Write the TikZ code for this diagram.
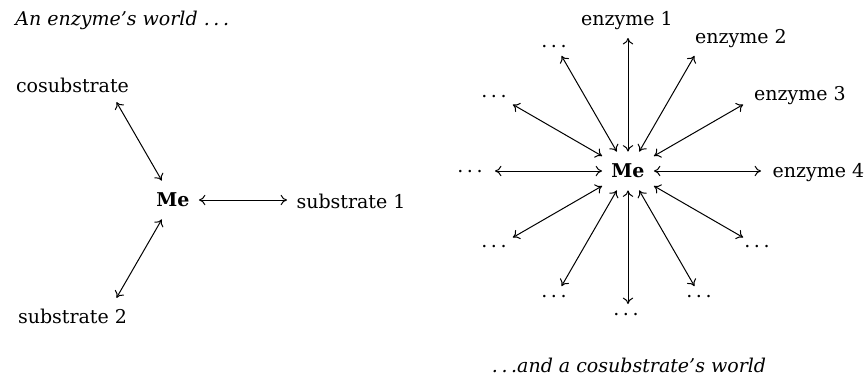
\documentclass[tikz,border=0pt]{standalone}
\usepackage{fontspec}
\setmainfont{DejaVu Serif}
\usetikzlibrary{arrows.meta}
\newcommand\spdots{.\kern1.8pt.\kern1.8pt.}
\begin{document}
\begin{tikzpicture}[x=0.5pt,y=-0.5pt,font=\fontsize{9.5}{11}\selectfont,
  me/.style={font=\fontsize{9.5}{11}\selectfont\bfseries, inner xsep=4.5pt, inner ysep=6pt},
  lbl/.style={anchor=base, inner sep=0pt},
  link/.style={{Computer Modern Rightarrow[length=3.2pt,width=5.2pt]}-{Computer Modern Rightarrow[length=3.2pt,width=5.2pt]}, line width=0.5pt}]
\useasboundingbox (0,0) rectangle (868,376);
% left diagram
\node[lbl, anchor=base west, font=\fontsize{9.5}{11}\selectfont\itshape] (title) at (15,25) {An enzyme's world \spdots};
\node[me] (meL) at (173,200) {Me};
\node[lbl] (cos) at (72.5,92) {cosubstrate};
\node[lbl] (s1) at (351,208) {substrate 1};
\node[lbl] (s2) at (72.5,323) {substrate 2};
\path (meL.center) ++(0:114) coordinate (tS1);
\path (meL.center) ++(-120:113) coordinate (tCos);
\path (meL.center) ++(120:113) coordinate (tS2);
\draw[link] (meL) -- (tS1);
\draw[link] (meL) -- (tCos);
\draw[link] (meL) -- (tS2);
% right diagram
\node[me] (meR) at (628,171) {Me};
\foreach \a in {0,30,...,330}{
  \path (meR.center) ++(-\a:133) coordinate (r\a);
  \draw[link] (meR) -- (r\a);
}
\node[lbl] (e1) at (627,25) {enzyme 1};
\node[lbl] (e2) at (741,43) {enzyme 2};
\node[lbl] (e3) at (800,100) {enzyme 3};
\node[lbl] (e4) at (818.5,177) {enzyme 4};
\node[lbl] (d120) at (554,47) {\spdots};
\node[lbl] (d150) at (494,97) {\spdots};
\node[lbl] (d180) at (470,172) {\spdots};
\node[lbl] (d210) at (494,247) {\spdots};
\node[lbl] (d240) at (554,297) {\spdots};
\node[lbl] (d270) at (626,315) {\spdots};
\node[lbl] (d300) at (699,297) {\spdots};
\node[lbl] (d330) at (757,247) {\spdots};
\node[lbl, font=\fontsize{9.5}{11}\selectfont\itshape] (cap) at (629,372) {\spdots and a cosubstrate's world};
\end{tikzpicture}
\end{document}
